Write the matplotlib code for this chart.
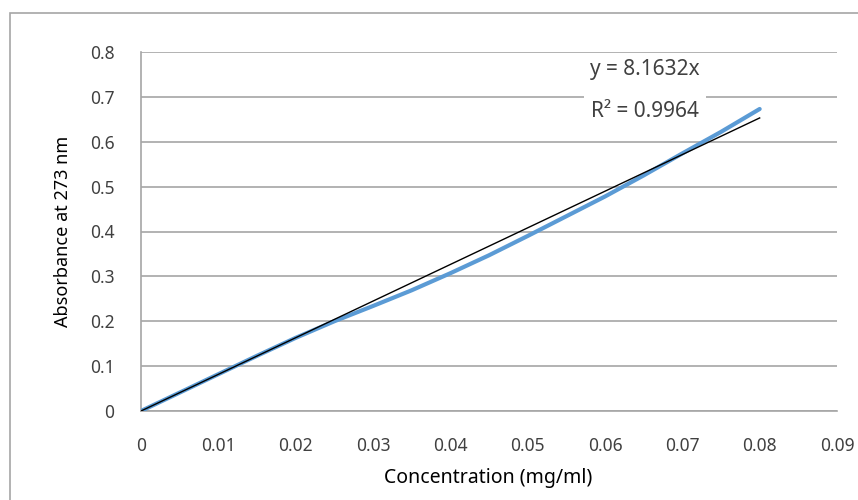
import matplotlib
matplotlib.use("Agg")
import matplotlib.pyplot as plt
from matplotlib.patches import Rectangle

plt.rcParams['font.family'] = ['Noto Sans', 'DejaVu Sans']

# readings of the blue calibration curve
conc = [0, 0.005, 0.01, 0.015, 0.02, 0.025, 0.03, 0.035, 0.04,
        0.045, 0.05, 0.055, 0.06, 0.065, 0.07, 0.075, 0.08]
absorb = [0, 0.041, 0.082, 0.123, 0.163, 0.2, 0.234, 0.269, 0.307,
          0.347, 0.39, 0.434, 0.478, 0.525, 0.574, 0.622, 0.673]

slope = 8.1632
r2 = 0.9964
trend_x = [0, 0.08]
trend_y = [slope * x for x in trend_x]

x_ticks = [0, 0.01, 0.02, 0.03, 0.04, 0.05, 0.06, 0.07, 0.08, 0.09]
x_labels = ['0', '0.01', '0.02', '0.03', '0.04', '0.05', '0.06', '0.07', '0.08', '0.09']
y_ticks = [0, 0.1, 0.2, 0.3, 0.4, 0.5, 0.6, 0.7, 0.8]
y_labels = ['0', '0.1', '0.2', '0.3', '0.4', '0.5', '0.6', '0.7', '0.8']

grey = '#a6a6a6'
txt = '#404040'

fig = plt.figure(figsize=(8.58, 5), dpi=100)
# chart area border
fig.patches.append(Rectangle((10/858, -0.1), 1.0, 0.974 + 0.1, transform=fig.transFigure,
                             fill=False, edgecolor=grey, linewidth=1.2))

ax = fig.add_axes([141/858, 89/500, 696/858, 359/500])
ax.set_xlim(0, 0.09)
ax.set_ylim(0, 0.8)
ax.set_xticks(x_ticks)
ax.set_xticklabels(x_labels)
ax.set_yticks(y_ticks)
ax.set_yticklabels(y_labels)
ax.tick_params(length=0, labelsize=12.5, labelcolor=txt)
ax.tick_params(axis='x', pad=19)
ax.tick_params(axis='y', pad=19)
ax.grid(axis='y', color=grey, linewidth=1.2)
ax.set_axisbelow(True)
for s in ['top', 'right']:
    ax.spines[s].set_visible(False)
for s in ['left', 'bottom']:
    ax.spines[s].set_color(grey)
    ax.spines[s].set_linewidth(1.2)

ax.plot(conc, absorb, color='#5b9bd5', linewidth=3, solid_capstyle='round', zorder=3)
ax.plot(trend_x, trend_y, color='black', linewidth=1, zorder=4)

box = dict(facecolor='white', edgecolor='none', pad=5)
ax.text(0.0652, 0.760, f'y = {slope}x', ha='center', va='center', fontsize=15,
        color=txt, bbox=box, zorder=5)
ax.text(0.0652, 0.667, f'R² = {r2}', ha='center', va='center', fontsize=15,
        color=txt, bbox=box, zorder=5)

ax.set_xlabel('Concentration (mg/ml)', fontsize=14, color='black')
ax.set_ylabel('Absorbance at 273 nm', fontsize=13, color='black')
ax.xaxis.set_label_coords(0.4986, -0.16)
ax.yaxis.set_label_coords(-0.099, 0.5)

fig.savefig('out.png', dpi=100)
